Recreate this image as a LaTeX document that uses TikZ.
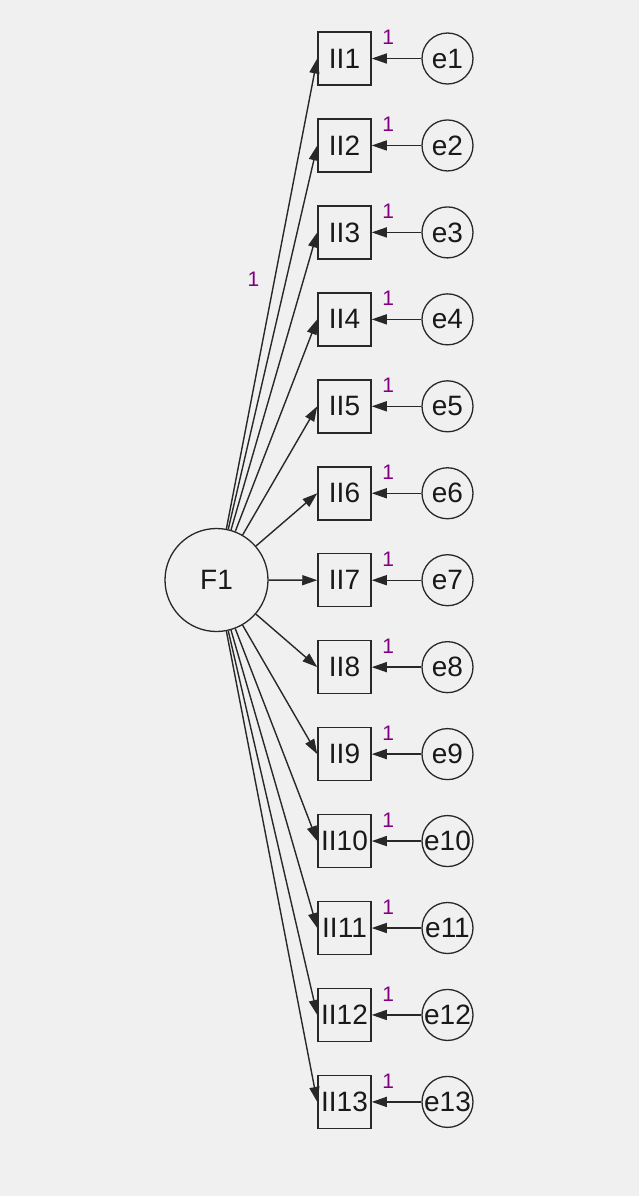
\documentclass[tikz,border=0pt]{standalone}
\usepackage{fontspec}
\setmainfont{Liberation Sans}
\usepackage{tikz}
\usetikzlibrary{arrows.meta}
\definecolor{bggrey}{RGB}{240,240,240}
\definecolor{linegrey}{RGB}{40,40,40}
\definecolor{onepurple}{RGB}{128,0,128}
\tikzset{
    obsbox/.style={draw=linegrey,rectangle,line width=0.75pt,minimum size=26.5pt,inner sep=0pt,
        text=black!90,font=\fontsize{14}{16}\selectfont},
    errcirc/.style={draw=linegrey,circle,line width=0.65pt,minimum size=25.5pt,inner sep=0pt,
        text=black!90,font=\fontsize{14}{16}\selectfont},
    latcirc/.style={draw=linegrey,circle,line width=0.65pt,minimum size=51.5pt,inner sep=0pt,
        text=black!90,font=\fontsize{14}{16}\selectfont},
    regarrow/.style={draw=linegrey,line width=0.7pt,-{Triangle[length=7.5pt,width=5pt]}},
    onelabel/.style={text=onepurple,inner sep=0pt,font=\fontsize{10.5}{12}\selectfont},
}
\begin{document}
\begin{tikzpicture}[x=0.5pt,y=-0.5pt]
\fill[bggrey] (0,0) rectangle (639,1196);
\useasboundingbox (0,0) rectangle (639,1196);
\node[latcirc] (F1) at (216.5,580) {F1};
\foreach \i in {1,...,13}{
    \node[obsbox] (II\i) at (344.5,{58.5+(\i-1)*86.95}) {II\i};
    \node[errcirc] (e\i) at (447.5,{58.5+(\i-1)*86.95}) {e\i};
    \draw[regarrow] (e\i) -- (II\i) node[onelabel,pos=0.67,yshift=10.5pt] {1};
    \draw[regarrow] (F1) -- (II\i.west);
}
\path (F1) -- (II1.west) node[onelabel,pos=0.53,xshift=-10.5pt] {1};
\end{tikzpicture}
\end{document}
